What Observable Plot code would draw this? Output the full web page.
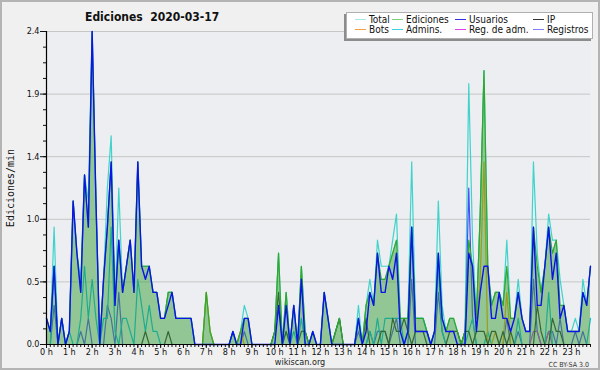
<!DOCTYPE html>
<html>
<head>
<meta charset="utf-8">
<script src="https://cdn.jsdelivr.net/npm/d3@7"></script>
<script src="https://cdn.jsdelivr.net/npm/@observablehq/plot@0.6"></script>
<style>
  html, body { margin: 0; padding: 0; background: #f0f0f0; }
  #wrap { position: relative; width: 600px; height: 370px; background: #f0f0f0; overflow: hidden;
          font-family: "DejaVu Sans Condensed", "DejaVu Sans", sans-serif; font-stretch: condensed; }
  #wrap svg { position: absolute; left: 0; top: 0; }
  .title { position: absolute; left: 85px; top: 10px; font-size: 12px; font-weight: bold; white-space: pre; color: #111; }
  .legend { position: absolute; left: 346px; top: 12px; width: 247px; height: 27px; background: #fff;
            border: 1px solid #b0b0b0; box-shadow: -2px 2px 0 #8c8c8c; box-sizing: border-box; }
  .legend .grid { position: absolute; left: 8px; top: 2px; display: grid;
                  grid-template-columns: 37px 63px 78px 55px; grid-auto-rows: 10px; font-size: 10px; line-height: 10px; color: #111; }
  .legend .item { white-space: nowrap; }
  .legend .sw { display: inline-block; width: 11px; height: 0; border-top: 1.4px solid; vertical-align: middle; margin-right: 3px; position: relative; top: -1px; }
  .ylab { position: absolute; left: 10px; top: 188px; transform: translate(-50%, -50%) rotate(-90deg);
          font-family: "DejaVu Sans Mono", monospace; font-size: 10px; white-space: nowrap; color: #111; }
  .foot { position: absolute; left: 300px; top: 357px; transform: translateX(-50%); font-size: 9px; line-height: 10px; color: #222; }
  .cc { position: absolute; right: 11px; top: 361px; font-size: 7px; line-height: 8px; color: #333; }
  .border { position: absolute; left: 0; top: 0; width: 600px; height: 370px; box-sizing: border-box;
            border: 2px solid #b4b4b4; pointer-events: none; }
</style>
</head>
<body>
<div id="wrap"></div>
<script>
// ---- Data (10-minute samples, 00:00 .. 23:50), edits per minute ----
const hourLabels = ["0 h","1 h","2 h","3 h","4 h","5 h","6 h","7 h","8 h","9 h","10 h","11 h",
                    "12 h","13 h","14 h","15 h","16 h","17 h","18 h","19 h","20 h","21 h","22 h","23 h"];
const yTickValues = [0, 0.48, 0.96, 1.44, 1.92, 2.4];

const seriesNames = ["Total","Ediciones","Usuarios","IP","Bots","Admins.","Reg. de adm.","Registros"];

const total = [
  0.2,0.1,0.9,0,0.2,0,0.1,1.1,0.7,0.5,1.3,1.1,
  2.4,1.1,0,0.5,1.2,1.6,0.3,1.2,0.4,0.6,0.8,0.4,
  1.4,0.6,0.6,0.6,0.4,0.4,0.2,0.2,0.4,0.4,0.2,0.2,
  0.2,0.2,0.2,0,0,0,0.4,0.1,0,0,0,0,
  0,0.1,0,0.1,0.3,0.2,0,0,0,0,0,0,
  0.1,0.7,0,0.4,0,0.3,0,0.6,0.1,0,0.1,0,
  0,0.4,0.2,0,0.1,0.2,0,0,0,0,0.3,0,
  0.3,0.5,0.3,0.8,0.6,0.6,0.6,0.8,1.0,0.2,0.2,0.2,
  1.4,0.2,0.2,0.2,0.1,0,0.1,1.1,0.3,0.1,0.2,0.2,
  0.1,0,0.1,2.0,0.8,0.2,1.0,2.1,0.6,0.3,0.4,0.4,
  0.3,0.8,0.2,0.2,0.5,0.2,0.1,0.1,1.4,0.7,0.4,0.6,
  1.0,0.8,0.8,0.5,0.3,0.1,0.1,0.2,0.1,0.5,0.3,0.6
];
const ediciones = [
  0.2,0.1,0.6,0,0.2,0,0.1,1.1,0.7,0.4,1.3,0.9,
  2.4,1.1,0,0.5,0.9,1.4,0.3,0.8,0.4,0.6,0.8,0.4,
  1.4,0.6,0.6,0.6,0.4,0.4,0.2,0.2,0.4,0.4,0.2,0.2,
  0.2,0.2,0.2,0,0,0,0.4,0.1,0,0,0,0,
  0,0.1,0,0.1,0.2,0.2,0,0,0,0,0,0,
  0.1,0.7,0,0.4,0,0.3,0,0.6,0.1,0,0.1,0,
  0,0.4,0.2,0,0.1,0.2,0,0,0,0,0.2,0,
  0.3,0.4,0.3,0.7,0.5,0.5,0.6,0.7,0.8,0.2,0.2,0.2,
  0.9,0.2,0.2,0.2,0.1,0,0.1,0.7,0.2,0.1,0.2,0.2,
  0.1,0,0.1,0.8,0.6,0.2,1.0,2.1,0.6,0.3,0.4,0.4,
  0.3,0.6,0.2,0.2,0.4,0.2,0.1,0.1,0.9,0.6,0.4,0.6,
  0.9,0.7,0.8,0.3,0.3,0.1,0.1,0.1,0.1,0.4,0.3,0.6
];
const usuarios = [
  0.2,0.1,0.6,0,0.2,0,0.1,1.1,0.7,0.4,1.3,0.9,
  2.4,1.1,0,0.5,0.9,1.4,0.3,0.8,0.4,0.6,0.8,0.4,
  1.4,0.6,0.5,0.6,0.4,0.4,0.2,0.2,0.3,0.4,0.2,0.2,
  0.2,0.2,0.2,0,0,0,0,0,0,0,0,0,
  0,0.1,0,0,0.2,0.2,0,0,0,0,0,0,
  0,0.3,0,0.3,0,0.3,0,0.5,0,0,0.1,0,
  0,0.4,0.2,0,0,0,0,0,0,0,0.2,0,
  0.1,0.4,0.3,0.7,0.4,0.4,0.6,0.5,0.7,0.1,0,0.1,
  0.9,0.1,0.1,0.1,0.1,0,0.1,0.7,0.2,0.1,0.1,0.1,
  0,0,0,0.7,0.6,0.1,0.4,0.6,0.6,0.2,0.2,0.4,
  0.2,0.2,0.1,0.2,0.4,0.2,0.1,0.1,0.9,0.3,0.3,0.6,
  0.9,0.5,0.7,0.2,0.3,0.1,0.1,0.1,0.1,0.4,0.3,0.6
];
const ip = [
  0,0,0,0,0,0,0,0,0,0,0,0,
  0,0,0,0,0,0,0,0,0,0,0,0,
  0,0,0.1,0,0,0,0,0,0.1,0,0,0,
  0,0,0,0,0,0,0,0,0,0,0,0,
  0,0,0,0,0,0,0,0,0,0,0,0,
  0.1,0.4,0,0.1,0,0,0,0.1,0.1,0,0,0,
  0,0,0,0,0.1,0.2,0,0,0,0,0,0,
  0.2,0,0,0,0.1,0.1,0,0.2,0.1,0.1,0.2,0.1,
  0,0.1,0.1,0.1,0,0,0,0,0,0,0.1,0.1,
  0.1,0,0.1,0.1,0,0.1,0.1,0.1,0,0.1,0.1,0,
  0.1,0,0.1,0,0,0,0,0,0,0.3,0.1,0,
  0,0.2,0.1,0.1,0,0,0,0,0,0,0,0
];
const bots = [
  0,0,0,0,0,0,0,0,0,0,0,0,
  0,0,0,0,0,0,0,0,0,0,0,0,
  0,0,0,0,0,0,0,0,0,0,0,0,
  0,0,0,0,0,0,0.4,0.1,0,0,0,0,
  0,0,0,0.1,0,0,0,0,0,0,0,0,
  0,0,0,0,0,0,0,0,0,0,0,0,
  0,0,0,0,0,0,0,0,0,0,0,0,
  0,0,0,0,0,0,0,0,0,0,0,0,
  0,0,0,0,0,0,0,0,0,0,0,0,
  0,0,0,0,0,0.1,0.5,1.4,0,0,0.1,0,
  0,0.4,0,0,0,0,0,0,0,0,0,0,
  0,0,0,0,0,0,0,0,0,0,0,0
];
const admins = [
  0,0,0.6,0,0.2,0,0.1,0,0,0.2,0.6,0.2,
  0.5,0.2,0,0.2,0.2,0.9,0.1,0,0.2,0.2,0.1,0,
  0.5,0.3,0.1,0.3,0.1,0.1,0,0,0,0,0,0,
  0,0,0,0,0,0,0,0,0,0,0,0,
  0,0.1,0,0,0,0,0,0,0,0,0,0,
  0,0,0,0.1,0,0.1,0,0.2,0,0,0,0,
  0,0,0,0,0,0,0,0,0,0,0.2,0,
  0,0.1,0,0.2,0,0.2,0.2,0.2,0.2,0.2,0,0.1,
  0.9,0.2,0.2,0.2,0.1,0,0.1,0.6,0.1,0,0,0,
  0,0,0,0.1,0.2,0,0,0,0.1,0,0,0,
  0,0,0,0,0.2,0,0,0,0,0,0,0,
  0.4,0,0,0,0,0,0,0,0,0,0,0.2
];
const regAdm = [
  0,0,0,0,0,0,0,0,0,0,0,0,
  0,0,0,0,0,0,0,0,0,0,0,0,
  0,0,0,0,0,0,0,0,0,0,0,0,
  0,0,0,0,0,0,0,0,0,0,0,0,
  0,0,0,0,0,0,0,0,0,0,0,0,
  0,0,0,0,0,0,0,0,0,0,0,0,
  0,0,0,0,0,0,0,0,0,0,0,0,
  0,0,0,0,0,0,0,0,0,0,0,0,
  0,0,0,0,0,0,0,0,0,0,0,0,
  0,0,0,0,0,0,0,0,0,0,0,0,
  0,0,0,0,0,0,0,0,0.1,0.1,0,0,
  0.1,0,0,0,0,0,0,0,0,0,0,0
];
const registros = [
  0,0,0.3,0,0,0,0,0,0,0.1,0,0.2,
  0,0,0,0,0.3,0.2,0,0.4,0,0,0,0,
  0,0,0,0,0,0,0,0,0,0,0,0,
  0,0,0,0,0,0,0,0,0,0,0,0,
  0,0,0,0,0.1,0,0,0,0,0,0,0,
  0,0,0,0,0,0,0,0,0,0,0,0,
  0,0,0,0,0,0,0,0,0,0,0.1,0,
  0,0.1,0,0.1,0.1,0.1,0,0.1,0.2,0,0,0,
  0.5,0,0,0,0,0,0,0.4,0.1,0,0,0,
  0,0,0,1.2,0.2,0,0,0,0,0,0,0,
  0,0.2,0,0,0.1,0,0,0,0.5,0.1,0,0,
  0.1,0.1,0,0.2,0,0,0,0.1,0,0.1,0,0
];

// ---- colours ----
const lineColors = {
  "Total": "#3fd3cb", "Ediciones": "#2ea82e", "Usuarios": "#0a14e8", "IP": "#333333",
  "Bots": "#ff9a00", "Admins.": "#00bde2", "Reg. de adm.": "#d030d8", "Registros": "#4a4aff"
};
const legendColors = {
  "Total": "#a6e8e8", "Ediciones": "#80d080", "Usuarios": "#3030e0", "IP": "#333333",
  "Bots": "#f4a040", "Admins.": "#40d0e4", "Reg. de adm.": "#e040f0", "Registros": "#8080ff"
};

const hourTicks = hourLabels.map((_, h) => h * 6);
const allTicks = d3.range(0, total.length);
const minorY = d3.range(0, 21).map(k => k * 0.12);

const lw = 1.2;
const chart = Plot.plot({
  width: 600,
  height: 370,
  marginLeft: 46,
  marginRight: 10,
  marginTop: 31,
  marginBottom: 26,
  x: {domain: [0, total.length - 1], axis: null},
  y: {domain: [0, 2.4], axis: null},
  style: {background: "transparent", fontFamily: "'DejaVu Sans Condensed','DejaVu Sans',sans-serif", fontSize: "9px", color: "#111", overflow: "visible"},
  marks: [
    Plot.frame({fill: "#eceef1"}),
    Plot.gridY(yTickValues, {stroke: "#c6c6c6", strokeOpacity: 1}),
    Plot.lineY(total, {stroke: lineColors["Total"], strokeWidth: lw}),
    Plot.lineY(registros, {stroke: lineColors["Registros"], strokeWidth: lw}),
    Plot.lineY(regAdm, {stroke: lineColors["Reg. de adm."], strokeWidth: lw}),
    Plot.lineY(admins, {stroke: lineColors["Admins."], strokeWidth: lw}),
    Plot.lineY(bots, {stroke: lineColors["Bots"], strokeWidth: lw}),
    Plot.lineY(ip, {stroke: lineColors["IP"], strokeWidth: lw}),
    Plot.areaY(ediciones, {fill: "#3a9e3a", fillOpacity: 0.5}),
    Plot.lineY(ediciones, {stroke: lineColors["Ediciones"], strokeWidth: lw}),
    Plot.lineY(usuarios, {stroke: lineColors["Usuarios"], strokeWidth: 1.4}),
    Plot.axisY(yTickValues, {tickSize: 6, tickPadding: 1, tickFormat: d3.format(".1f"), label: null}),
    Plot.axisY(minorY, {tickSize: 3, tickFormat: () => "", label: null}),
    Plot.axisX(allTicks, {tickSize: 3, tickFormat: () => "", label: null}),
    Plot.axisX(hourTicks, {tickSize: 4, tickPadding: 0, tickFormat: d => hourLabels[d / 6], label: null}),
    Plot.ruleY([0], {stroke: "#000", strokeWidth: 1.2}),
    Plot.ruleX([0], {stroke: "#000", strokeWidth: 1.2})
  ]
});

const wrap = document.getElementById("wrap");
wrap.appendChild(chart);

const title = document.createElement("div");
title.className = "title";
title.textContent = "Ediciones  2020-03-17";
wrap.appendChild(title);

const legend = document.createElement("div");
legend.className = "legend";
const grid = document.createElement("div");
grid.className = "grid";
for (const name of seriesNames) {
  const item = document.createElement("div");
  item.className = "item";
  const sw = document.createElement("span");
  sw.className = "sw";
  sw.style.borderTopColor = legendColors[name];
  item.appendChild(sw);
  item.appendChild(document.createTextNode(name));
  grid.appendChild(item);
}
legend.appendChild(grid);
wrap.appendChild(legend);

const ylab = document.createElement("div");
ylab.className = "ylab";
ylab.textContent = "Ediciones/min";
wrap.appendChild(ylab);

const foot = document.createElement("div");
foot.className = "foot";
foot.textContent = "wikiscan.org";
wrap.appendChild(foot);

const cc = document.createElement("div");
cc.className = "cc";
cc.textContent = "CC BY-SA 3.0";
wrap.appendChild(cc);

const border = document.createElement("div");
border.className = "border";
wrap.appendChild(border);
</script>
</body>
</html>
